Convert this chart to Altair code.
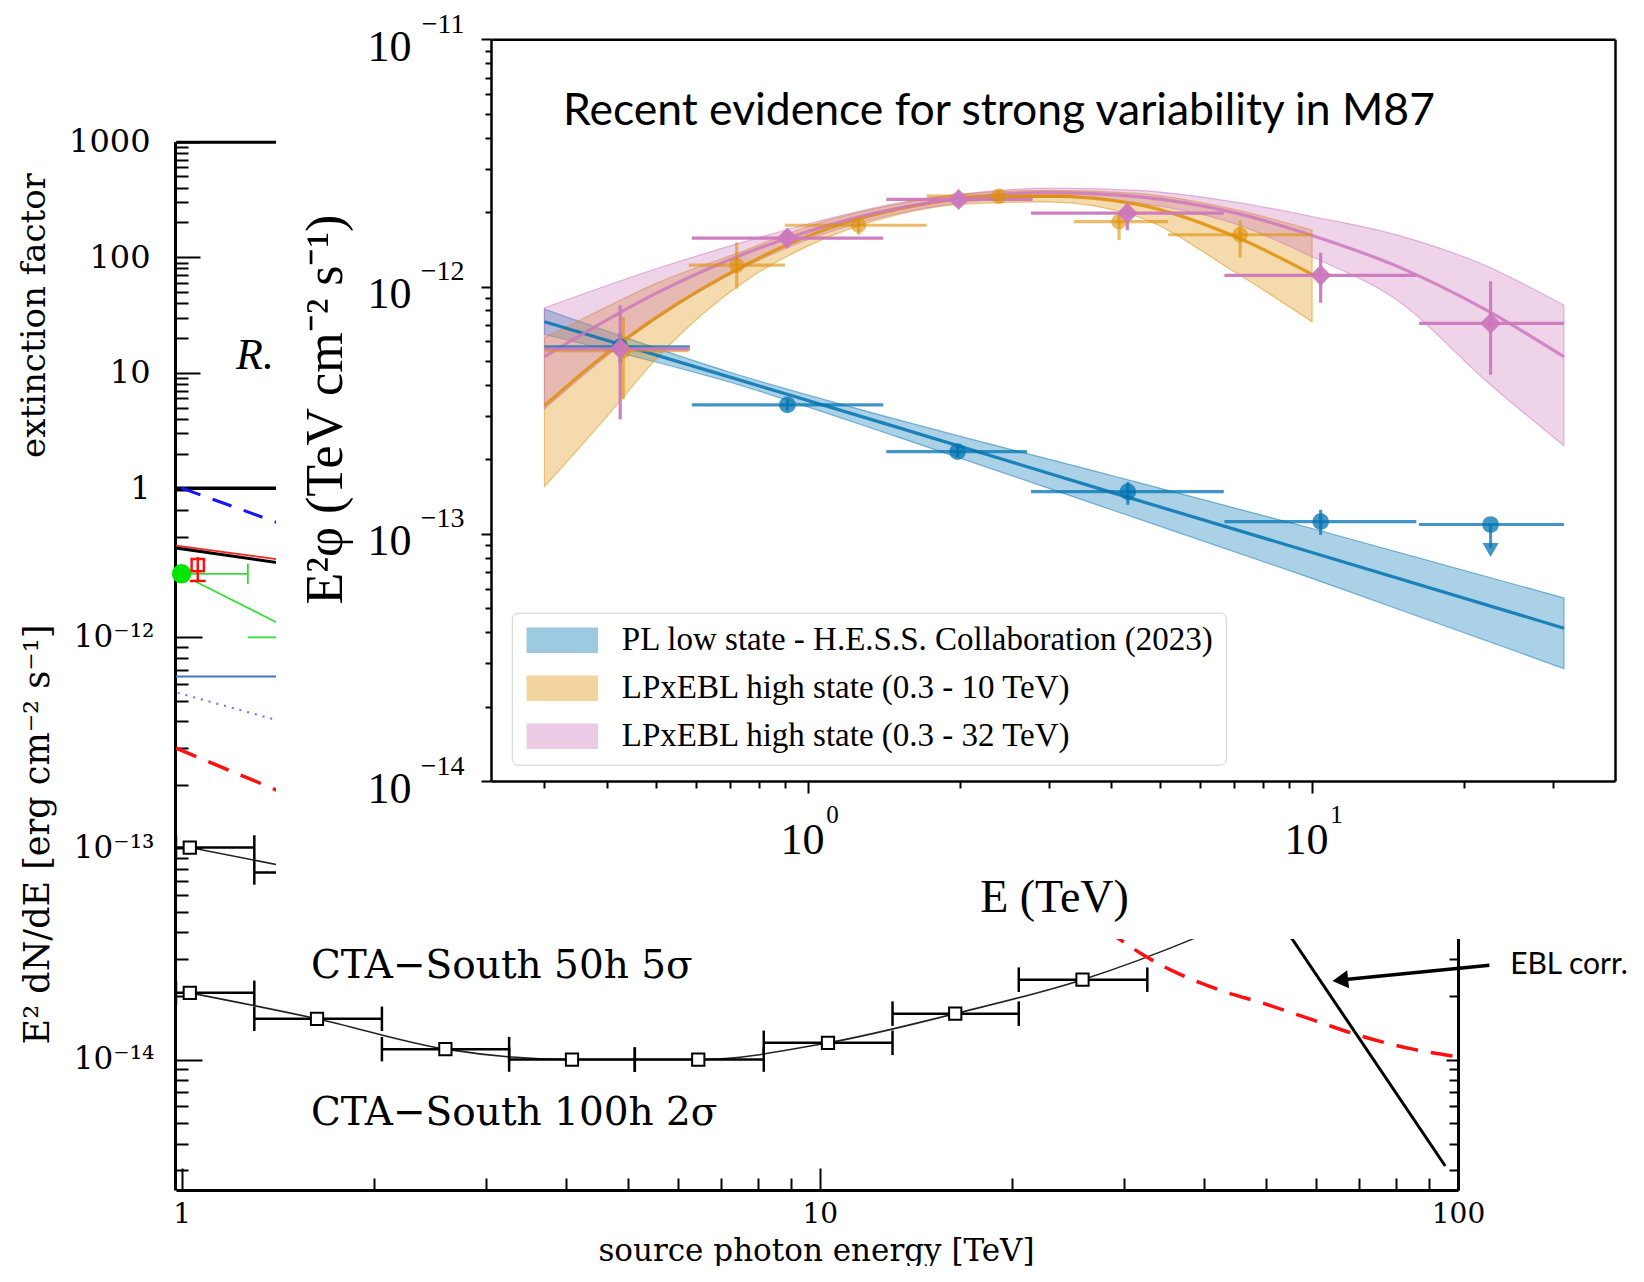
import altair as alt
import pandas as pd

W, H = 1628, 1258

# ======================= background figure (CTA-South sensitivity) =======================
cta100_E = [1.03, 1.63, 2.59, 4.09, 6.45, 10.3, 16.3, 25.8]
cta100_F = [2.07e-14, 1.56e-14, 1.12e-14, 1.00e-14, 1.00e-14, 1.20e-14, 1.65e-14, 2.39e-14]
cta100_Elo = [0.98, 1.30, 2.06, 3.26, 5.13, 8.17, 13.0, 20.5]
cta100_Ehi = [1.30, 2.06, 3.26, 5.13, 8.17, 13.0, 20.5, 32.6]
cta100_tail_E = [38.7, 50.0]
cta100_tail_F = [3.76e-14, 5.3e-14]

cta50_E = [1.03, 1.63]
cta50_F = [1.01e-13, 7.7e-14]
cta50_Elo = [0.98, 1.30]
cta50_Ehi = [1.30, 2.06]

ebl_dash_E = [28.0, 29.5, 32.0, 36.0, 42.0, 50.0, 60.0, 70.0, 85.0, 100.0]
ebl_dash_F = [4.1e-14, 3.71e-14, 3.15e-14, 2.6e-14, 2.15e-14, 1.83e-14, 1.52e-14, 1.3e-14, 1.12e-14, 1.03e-14]
ebl_corr_E = [50.0, 95.5]
ebl_corr_F = [5.7e-14, 3.13e-15]

blue_dash_E, blue_dash_F = [1.0, 1.6], [5.1e-12, 3.05e-12]
red_thin_E, red_thin_F = [0.98, 1.6], [2.72e-12, 2.23e-12]
black_thick_E, black_thick_F = [0.98, 1.6], [2.65e-12, 2.14e-12]
green_line_E, green_line_F = [1.04, 1.6], [1.87e-12, 0.97e-12]
blue_solid_E, blue_solid_F = [0.98, 2.0], [6.52e-13, 6.52e-13]
blue_dot_E, blue_dot_F = [0.986, 1.6], [5.46e-13, 3.65e-13]
red_dash_E, red_dash_F = [0.98, 1.6], [2.99e-13, 1.61e-13]

red_pt_E, red_pt_F, red_pt_Flo, red_pt_Fhi = [1.06], [2.2e-12], [1.85e-12], [2.4e-12]
green_pt_E, green_pt_F = [1.0], [2.0e-12]
green_bar_Elo = [1.0, 1.27]
green_bar_Ehi = [1.27, 2.0]
green_bar_F = [2.0e-12, 1.0e-12]

ext_E, ext_V = [0.98, 2.0], [1.0, 1.0]

bg_x_label_vals, bg_x_labels = [1, 10, 100], ["1", "10", "100"]
bg_y_label_vals, bg_y_labels = [1e-14, 1e-13, 1e-12], ["10⁻¹⁴", "10⁻¹³", "10⁻¹²"]
ext_label_vals, ext_labels = [1, 10, 100, 1000], ["1", "10", "100", "1000"]

# ======================= inset (M87 SED) =======================
S_PL = "PL low state - H.E.S.S. Collaboration (2023)"
S_LP10 = "LPxEBL high state (0.3 - 10 TeV)"
S_LP32 = "LPxEBL high state (0.3 - 32 TeV)"
series_names = [S_PL, S_LP10, S_LP32]
series_colors = ["#0173b2", "#de8f05", "#cc78bc"]

pl_E = [0.3, 0.7, 1.5, 4.0, 10.0, 31.6]
pl_mid = [7.2e-13, 4.3e-13, 2.7e-13, 1.47e-13, 8.4e-14, 4.15e-14]
pl_lo = [6.4e-13, 4.1e-13, 2.47e-13, 1.25e-13, 6.6e-14, 2.85e-14]
pl_hi = [8.1e-13, 4.5e-13, 2.9e-13, 1.72e-13, 1.05e-13, 5.5e-14]

lp10_E = [0.3, 0.4, 0.5, 0.75, 1.0, 1.5, 2.0, 3.0, 4.5, 7.0, 10.0]
lp10_mid = [3.3e-13, 5.4e-13, 7.5e-13, 1.22e-12, 1.6e-12, 2.05e-12, 2.25e-12, 2.32e-12, 2.15e-12, 1.6e-12, 1.12e-12]
lp10_lo = [1.55e-13, 3.0e-13, 5.1e-13, 1.05e-12, 1.46e-12, 1.95e-12, 2.15e-12, 2.2e-12, 1.92e-12, 1.15e-12, 7.2e-13]
lp10_hi = [6.2e-13, 8.3e-13, 1.03e-12, 1.4e-12, 1.75e-12, 2.15e-12, 2.36e-12, 2.45e-12, 2.38e-12, 2.05e-12, 1.69e-12]

lp32_E = [0.3, 0.5, 0.75, 1.0, 1.5, 2.0, 3.0, 4.5, 7.0, 10.0, 15.0, 22.0, 31.6]
lp32_mid = [5.2e-13, 9.4e-13, 1.36e-12, 1.67e-12, 2.07e-12, 2.27e-12, 2.4e-12, 2.31e-12, 1.99e-12, 1.61e-12, 1.19e-12, 8.1e-13, 5.2e-13]
lp32_lo = [3.2e-13, 7.4e-13, 1.2e-12, 1.55e-12, 1.97e-12, 2.18e-12, 2.3e-12, 2.18e-12, 1.8e-12, 1.32e-12, 8.6e-13, 4.2e-13, 2.27e-13]
lp32_hi = [8.2e-13, 1.18e-12, 1.52e-12, 1.79e-12, 2.17e-12, 2.36e-12, 2.5e-12, 2.45e-12, 2.2e-12, 1.92e-12, 1.6e-12, 1.22e-12, 8.4e-13]

pl_pt_E = [0.424, 0.91, 1.98, 4.31, 10.4]
pl_pt_F = [5.7e-13, 3.32e-13, 2.15e-13, 1.48e-13, 1.12e-13]
pl_pt_Elo = [0.30, 0.588, 1.43, 2.77, 6.7]
pl_pt_Ehi = [0.583, 1.41, 2.72, 6.68, 16.1]
pl_pt_Flo = [4.9e-13, 3.15e-13, 2.05e-13, 1.31e-13, 9.9e-14]
pl_pt_Fhi = [6.5e-13, 3.5e-13, 2.25e-13, 1.62e-13, 1.25e-13]
pl_ul_E, pl_ul_F, pl_ul_Elo, pl_ul_Ehi, pl_ul_Fend, pl_ul_head = [22.6], [1.09e-13], [16.3], [31.6], [8.8e-14], [8.6e-14]

lp10_pt_E = [0.43, 0.722, 1.26, 2.39, 4.14, 7.2]
lp10_pt_F = [5.5e-13, 1.22e-12, 1.77e-12, 2.32e-12, 1.83e-12, 1.62e-12]
lp10_pt_Elo = [0.30, 0.58, 0.90, 1.72, 3.37, 5.18]
lp10_pt_Ehi = [0.58, 0.90, 1.72, 3.37, 5.18, 10.0]
lp10_pt_Flo = [3.5e-13, 9.8e-13, 1.62e-12, 2.2e-12, 1.54e-12, 1.31e-12]
lp10_pt_Fhi = [7.5e-13, 1.51e-12, 1.92e-12, 2.45e-12, 1.98e-12, 1.85e-12]

lp32_pt_E = [0.424, 0.91, 1.99, 4.30, 10.4, 22.6]
lp32_pt_F = [5.6e-13, 1.57e-12, 2.25e-12, 1.98e-12, 1.11e-12, 7.1e-13]
lp32_pt_Elo = [0.30, 0.588, 1.43, 2.77, 6.7, 16.3]
lp32_pt_Ehi = [0.583, 1.41, 2.79, 6.68, 16.1, 31.6]
lp32_pt_Flo = [2.9e-13, 1.43e-12, 2.1e-12, 1.69e-12, 8.6e-13, 4.4e-13]
lp32_pt_Fhi = [8.4e-13, 1.69e-12, 2.4e-12, 2.17e-12, 1.37e-12, 1.05e-12]

ins_x_label_vals, ins_x_sup = [1, 10], ["0", "1"]
ins_y_label_vals, ins_y_sup = [1e-14, 1e-13, 1e-12, 1e-11], ["−14", "−13", "−12", "−11"]

# ======================= helpers =======================
FONT_BG = "DejaVu Serif"
FONT_IN = "Liberation Serif"
FONT_SANS = "Lato"
LOG_MAJOR = "abs(log(datum.value)/LN10 - round(log(datum.value)/LN10)) < 0.001"


def tick_size(major, minor):
    return {"condition": {"test": LOG_MAJOR, "value": major}, "value": minor}


def label_map(vals, labels):
    e = "''"
    for v, l in zip(reversed(vals), reversed(labels)):
        e = f"(abs(log(datum.value) - log({v!r})) < 0.01 ? '{l}' : {e})"
    return e


def axis(**kw):
    base = dict(grid=False, title=None, labelColor="black", tickColor="black",
                domainColor="black", titleColor="black", labelOverlap=False,
                labelFlush=False, titleFontWeight="normal")
    base.update(kw)
    return alt.Axis(**base)


def decade_ticks(lo_exp, hi_exp):
    out = []
    for e in range(lo_exp, hi_exp):
        for k in range(1, 10):
            out.append(k * 10.0 ** e)
    return out


bg_x_tick_vals = decade_ticks(0, 2) + [100.0]
bg_y_tick_vals = [k * 1e-15 for k in range(3, 10)] + decade_ticks(-14, -12) + [k * 1e-12 for k in range(1, 6)]
ext_tick_vals = decade_ticks(0, 3) + [1000.0]
ins_x_tick_vals = [k * 0.1 for k in range(3, 10)] + decade_ticks(0, 1) + [10.0, 20.0, 30.0]
ins_y_tick_vals = decade_ticks(-14, -11) + [1e-11]

bgx = alt.Scale(type="log", domain=[0.98, 100], range=[168, 1450], nice=False)
bgy = alt.Scale(type="log", domain=[2.41e-15, 5.1e-12], range=[1182, 480], nice=False)
exty = alt.Scale(type="log", domain=[1, 1000], range=[480.3, 133.7], nice=False)
insx = alt.Scale(type="log", domain=[0.235, 39.9], range=[483, 1607], nice=False)
insy = alt.Scale(type="log", domain=[1e-14, 1e-11], range=[773, 31.3], nice=False)

# ---------------- background axes ----------------
ax_bg_xlabels = axis(orient="bottom", offset=1182 - H, values=bg_x_label_vals,
                     labelExpr=label_map(bg_x_label_vals, bg_x_labels), ticks=False, tickSize=0,
                     domain=False, labelFont=FONT_BG, labelFontSize=28, labelPadding=10,
                     title="source photon energy [TeV]", titleFont=FONT_BG, titleFontSize=31,
                     titleX=808, titleY=70, titleAlign="center", titleBaseline="alphabetic", zindex=0)
ax_bg_xticks = axis(orient="top", offset=-1182, values=bg_x_tick_vals, labels=False,
                    tickSize=tick_size(22, 12), tickWidth=2, domain=True, domainWidth=3, zindex=0)
ax_bg_ylabels = axis(orient="left", offset=-167, values=bg_y_label_vals,
                     labelExpr=label_map(bg_y_label_vals, bg_y_labels), ticks=False, tickSize=0,
                     domain=True, domainWidth=3, labelFont=FONT_BG, labelFontSize=31, labelPadding=21,
                     title="E² dN/dE  [erg cm⁻² s⁻¹]", titleFont=FONT_BG, titleFontSize=35,
                     titleAngle=270, titleX=-138, titleY=826, titleAlign="center",
                     titleBaseline="middle", zindex=0)
ax_bg_yticks = axis(orient="right", offset=167 - W, values=bg_y_tick_vals, labels=False,
                    tickSize=tick_size(27, 13), tickWidth=2, domain=False, zindex=0)
ax_bg_yright = axis(orient="left", offset=-1450, values=bg_y_tick_vals, labels=False,
                    tickSize=tick_size(12, 9), tickWidth=2, domain=True, domainWidth=3, zindex=0)
ax_ext_labels = axis(orient="left", offset=-167, values=ext_label_vals,
                     labelExpr=label_map(ext_label_vals, ext_labels), ticks=False, tickSize=0,
                     domain=True, domainWidth=3, labelFont=FONT_BG, labelFontSize=32, labelPadding=25,
                     title="extinction factor", titleFont=FONT_BG, titleFontSize=34, titleAngle=270,
                     titleX=-141, titleY=307, titleAlign="center", titleBaseline="middle", zindex=0)
ax_ext_ticks = axis(orient="right", offset=167 - W, values=ext_tick_vals, labels=False,
                    tickSize=tick_size(25, 13), tickWidth=2, domain=False, zindex=0)
ax_bg_top = axis(orient="top", offset=-133.7, labels=False, ticks=False, domain=True,
                 domainWidth=3, zindex=0)


def bgX(field="E", ax=None):
    return alt.X(f"{field}:Q", scale=bgx, axis=ax)


def bgY(field="F", ax=None):
    return alt.Y(f"{field}:Q", scale=bgy, axis=ax)


def bgline(E, F, color, width, dash=None, interp="linear"):
    kw = dict(color=color, strokeWidth=width, interpolate=interp)
    if dash:
        kw["strokeDash"] = dash
    return alt.Chart(pd.DataFrame({"E": E, "F": F})).mark_line(**kw).encode(x=bgX(), y=bgY())


df100_curve = pd.DataFrame({"E": cta100_E + cta100_tail_E, "F": cta100_F + cta100_tail_F})
df_pts = pd.DataFrame({"E": cta100_E + cta50_E, "F": cta100_F + cta50_F,
                       "Elo": cta100_Elo + cta50_Elo, "Ehi": cta100_Ehi + cta50_Ehi})
df_caps = pd.DataFrame({"E": cta100_Elo + cta100_Ehi + cta50_Elo + cta50_Ehi,
                        "F": cta100_F + cta100_F + cta50_F + cta50_F})

l_cta100 = alt.Chart(df100_curve).mark_line(color="#222222", strokeWidth=1.6, interpolate="monotone").encode(
    x=bgX(ax=ax_bg_xlabels), y=bgY(ax=ax_bg_ylabels))
l_cta50 = bgline(cta50_E, cta50_F, "#222222", 1.6)
l_bars = alt.Chart(df_pts).mark_rule(color="black", strokeWidth=2.5).encode(
    x=bgX("Elo", ax_bg_xticks), x2="Ehi:Q", y=bgY(ax=ax_bg_yticks))
l_caps = alt.Chart(df_caps).mark_point(shape="M0,-1L0,1", size=600, strokeWidth=2.5, color="black",
                                        opacity=1).encode(x=bgX(), y=bgY(ax=ax_bg_yright))
l_sq = alt.Chart(df_pts).mark_square(size=150, fill="white", stroke="black", strokeWidth=2,
                                     opacity=1).encode(x=bgX(), y=bgY())

l_blue_dash = bgline(blue_dash_E, blue_dash_F, "#1515ff", 3, [20, 13])
l_red_thin = bgline(red_thin_E, red_thin_F, "#ff2020", 1.8)
l_black_thick = bgline(black_thick_E, black_thick_F, "black", 3)
l_green_line = bgline(green_line_E, green_line_F, "#33dd33", 1.6)
l_blue_solid = bgline(blue_solid_E, blue_solid_F, "#4472c4", 2)
l_blue_dot = bgline(blue_dot_E, blue_dot_F, "#6a6aff", 2, [2, 6])
l_red_dash = bgline(red_dash_E, red_dash_F, "#ff1010", 3.5, [22, 13])
l_ebl_dash = bgline(ebl_dash_E, ebl_dash_F, "#ff1010", 3.5, [22, 13], "monotone")
l_ebl_corr = bgline(ebl_corr_E, ebl_corr_F, "black", 3)

df_green_bar = pd.DataFrame({"Elo": green_bar_Elo, "Ehi": green_bar_Ehi, "F": green_bar_F})
l_green_bar = alt.Chart(df_green_bar).mark_rule(color="#33dd33", strokeWidth=1.8).encode(
    x=bgX("Elo"), x2="Ehi:Q", y=bgY())
l_green_cap = alt.Chart(df_green_bar).mark_point(shape="M0,-1L0,1", size=420, strokeWidth=1.8,
                                                  color="#33dd33", opacity=1).encode(x=bgX("Ehi"), y=bgY())
l_green_pt = alt.Chart(pd.DataFrame({"E": green_pt_E, "F": green_pt_F})).mark_circle(
    size=380, color="#00e600", opacity=1).encode(x=bgX(), y=bgY())
df_red = pd.DataFrame({"E": red_pt_E, "F": red_pt_F, "Flo": red_pt_Flo, "Fhi": red_pt_Fhi})
l_red_err = alt.Chart(df_red).mark_rule(color="#ff1010", strokeWidth=2.5).encode(
    x=bgX(), y=bgY("Flo"), y2="Fhi:Q")
l_red_sq = alt.Chart(df_red).mark_square(size=150, filled=False, color="#ff1010", strokeWidth=2.5,
                                         opacity=1).encode(x=bgX(), y=bgY())
l_red_cap = alt.Chart(df_red).mark_point(shape="M-1,0L1,0", size=256, strokeWidth=2.5, color="#ff1010",
                                         opacity=1).encode(x=bgX(), y=bgY("Flo"))

cta_text_E = [1.595, 1.595]
cta_text_F = [2.77e-14, 5.58e-15]
cta_text = ["CTA−South 50h 5σ", "CTA−South 100h 2σ"]
l_cta_txt = alt.Chart(pd.DataFrame({"E": cta_text_E, "F": cta_text_F, "t": cta_text})).mark_text(
    align="left", baseline="middle", font=FONT_BG, fontSize=39, color="black").encode(
    x=bgX(), y=bgY(), text="t:N")

ebl_txt_E, ebl_txt_F = [120.7], [2.8e-14]
arrow_E, arrow_F = [112.0, 65.4], [2.8e-14, 2.38e-14]
l_ebl_txt = alt.Chart(pd.DataFrame({"E": ebl_txt_E, "F": ebl_txt_F, "t": ["EBL corr."]})).mark_text(
    align="left", baseline="middle", font=FONT_SANS, fontSize=30, color="black").encode(
    x=bgX(), y=bgY(), text="t:N")
l_arrow = bgline(arrow_E, arrow_F, "black", 3.5)
l_arrow_head = alt.Chart(pd.DataFrame({"E": arrow_E[1:], "F": arrow_F[1:]})).mark_point(
    shape="triangle-left", size=330, filled=True, color="black", opacity=1, angle=354).encode(
    x=bgX(), y=bgY())

flux_group = alt.layer(
    l_cta100, l_cta50, l_bars, l_caps, l_sq,
    l_blue_dash, l_red_thin, l_black_thick, l_green_line, l_blue_solid, l_blue_dot, l_red_dash,
    l_ebl_dash, l_ebl_corr, l_green_bar, l_green_cap, l_green_pt, l_red_err, l_red_sq, l_red_cap,
    l_cta_txt, l_ebl_txt, l_arrow, l_arrow_head,
).resolve_axis(x="independent", y="independent")

l_ext = alt.Chart(pd.DataFrame({"E": ext_E, "V": ext_V})).mark_line(color="black", strokeWidth=3.5).encode(
    x=bgX(ax=ax_bg_top), y=alt.Y("V:Q", scale=exty, axis=ax_ext_labels))
r_E, r_V = [1.217], [13.97]
l_r = alt.Chart(pd.DataFrame({"E": r_E, "V": r_V, "t": ["R."]})).mark_text(
    align="left", baseline="middle", font=FONT_IN, fontStyle="italic", fontSize=44, color="black").encode(
    x=bgX(), y=alt.Y("V:Q", scale=exty, axis=ax_ext_ticks), text="t:N")
ext_group = alt.layer(l_ext, l_r).resolve_axis(x="independent", y="independent")

bg = alt.layer(ext_group, flux_group).resolve_scale(y="independent").resolve_axis(
    x="independent", y="independent")

# ---------------- white panel of the inset ----------------
white = alt.Chart(pd.DataFrame({"a": [0]})).mark_rect(color="white").encode(
    x=alt.value(268), x2=alt.value(W), y=alt.value(0), y2=alt.value(931))

# ---------------- inset ----------------
def band_df(name, E, lo, mid, hi):
    return pd.DataFrame({"series": name, "E": E, "lo": lo, "mid": mid, "hi": hi})


df_band = pd.concat([band_df(S_PL, pl_E, pl_lo, pl_mid, pl_hi),
                     band_df(S_LP10, lp10_E, lp10_lo, lp10_mid, lp10_hi),
                     band_df(S_LP32, lp32_E, lp32_lo, lp32_mid, lp32_hi)], ignore_index=True)


def pt_df(name, E, F, Elo, Ehi, Flo, Fhi):
    return pd.DataFrame({"grp": name, "E": E, "F": F, "Elo": Elo, "Ehi": Ehi, "Flo": Flo, "Fhi": Fhi})


df_ipts = pd.concat([pt_df(S_PL, pl_pt_E, pl_pt_F, pl_pt_Elo, pl_pt_Ehi, pl_pt_Flo, pl_pt_Fhi),
                     pt_df(S_LP10, lp10_pt_E, lp10_pt_F, lp10_pt_Elo, lp10_pt_Ehi, lp10_pt_Flo, lp10_pt_Fhi),
                     pt_df(S_LP32, lp32_pt_E, lp32_pt_F, lp32_pt_Elo, lp32_pt_Ehi, lp32_pt_Flo, lp32_pt_Fhi)],
                    ignore_index=True)
df_ul = pd.DataFrame({"grp": S_PL, "E": pl_ul_E, "F": pl_ul_F, "Elo": pl_ul_Elo, "Ehi": pl_ul_Ehi,
                      "Fend": pl_ul_Fend, "Fhead": pl_ul_head})
df_xbars = pd.concat([df_ipts[["grp", "F", "Elo", "Ehi"]], df_ul[["grp", "F", "Elo", "Ehi"]]],
                     ignore_index=True)

# legend scale (explicit domain, in legend order)
col_scale = alt.Scale(domain=series_names, range=series_colors)
# scales for the non-legend channels: data-derived (sorted) domain -> not merged with the legend
sorted_names = sorted(series_names)
sorted_colors = [series_colors[series_names.index(n)] for n in sorted_names]
mark_col = alt.Scale(range=sorted_colors)
mark_opa = alt.Scale(type="ordinal",
                     range=[{S_PL: 0.75, S_LP10: 0.6, S_LP32: 0.95}[n] for n in sorted_names])
mark_shape = alt.Scale(range=[{S_PL: "circle", S_LP10: "circle", S_LP32: "diamond"}[n] for n in sorted_names])
mark_size = alt.Scale(type="ordinal",
                      range=[{S_PL: 280, S_LP10: 240, S_LP32: 440}[n] for n in sorted_names])

ax_in_xticks = axis(orient="bottom", offset=773 - H, values=ins_x_tick_vals, labels=False,
                    tickSize=tick_size(12, 7), tickWidth=2, domain=True, domainWidth=2.5, zindex=1)
ax_in_yticks = axis(orient="left", offset=-483, values=ins_y_tick_vals, labels=False,
                    tickSize=tick_size(10, 6), tickWidth=2, domain=True, domainWidth=2.5, zindex=1)
ax_in_xlab = axis(orient="bottom", offset=773 - H, values=ins_x_label_vals, labelExpr="'10'",
                  ticks=False, tickSize=0, domain=False, labelFont=FONT_IN, labelFontSize=44,
                  labelPadding=37, labelOffset=-6, title="E (TeV)", titleFont=FONT_IN, titleFontSize=46,
                  titleX=1046, titleY=116, titleAlign="center", titleBaseline="middle", zindex=1)
ax_in_ylab = axis(orient="left", offset=-483, values=ins_y_label_vals, labelExpr="'10'",
                  ticks=False, tickSize=0, domain=False, labelFont=FONT_IN, labelFontSize=44,
                  labelPadding=80, labelOffset=8, title="E²φ (TeV cm⁻² s⁻¹)", titleFont=FONT_IN,
                  titleFontSize=52, titleAngle=270, titleX=-166, titleY=401, titleAlign="center",
                  titleBaseline="middle", zindex=1)
ax_in_xsup = axis(orient="bottom", offset=773 - H, values=ins_x_label_vals,
                  labelExpr=label_map(ins_x_label_vals, ins_x_sup), ticks=False, tickSize=0,
                  domain=False, labelFont=FONT_IN, labelFontSize=25, labelPadding=21, labelOffset=24,
                  zindex=1)
ax_in_ysup = axis(orient="left", offset=-483, values=ins_y_label_vals,
                  labelExpr=label_map(ins_y_label_vals, ins_y_sup), ticks=False, tickSize=0,
                  domain=False, labelFont=FONT_IN, labelFontSize=28, labelPadding=27, labelOffset=-15,
                  zindex=1)
ax_in_top = axis(orient="top", offset=-31.3, labels=False, ticks=False, domain=True, domainWidth=2.5,
                 zindex=1)
ax_in_right = axis(orient="right", offset=1607 - W, labels=False, ticks=False, domain=True,
                   domainWidth=2.5, zindex=1)


def inX(field="E", ax=None):
    return alt.X(f"{field}:Q", scale=insx, axis=ax)


def inY(field="F", ax=None):
    return alt.Y(f"{field}:Q", scale=insy, axis=ax)


# swatch: 70 x 24 px rectangle (sqrt(size)=24 -> path units of 12 px)
legend = alt.Legend(title=None, orient="none", legendX=503.8, legendY=604.7,
                    symbolType="M-2.92,-1H2.92V1H-2.92Z", symbolSize=576, symbolOffset=23,
                    symbolOpacity=0.38, symbolStrokeWidth=1.5, labelFont=FONT_IN, labelFontSize=33,
                    labelColor="black", labelLimit=0, labelOffset=43, padding=11, rowPadding=14,
                    strokeColor="#d0d0d0", fillColor="white", cornerRadius=6)

i_band = alt.Chart(df_band).mark_area(fillOpacity=0.33, strokeOpacity=0.5, strokeWidth=1.2,
                                      interpolate="monotone").encode(
    x=inX(ax=ax_in_xticks), y=inY("lo", ax_in_yticks), y2="hi:Q",
    fill=alt.Fill("series:N", scale=col_scale, legend=legend),
    stroke=alt.Stroke("series:N", scale=col_scale, legend=None))
i_line = alt.Chart(df_band.rename(columns={"series": "grp"})).mark_line(
    strokeWidth=3.2, strokeOpacity=0.85, interpolate="monotone").encode(
    x=inX(ax=ax_in_xlab), y=inY("mid", ax_in_ylab),
    color=alt.Color("grp:N", scale=mark_col, legend=None), detail="grp:N")
i_xbar = alt.Chart(df_xbars).mark_rule(strokeWidth=3.2).encode(
    x=inX("Elo", ax_in_xsup), x2="Ehi:Q", y=inY(ax=ax_in_ysup),
    color=alt.Color("grp:N", scale=mark_col, legend=None),
    opacity=alt.Opacity("grp:N", scale=mark_opa, legend=None))
i_ybar = alt.Chart(df_ipts).mark_rule(strokeWidth=3.2).encode(
    x=inX(ax=ax_in_top), y=inY("Flo", ax_in_right), y2="Fhi:Q",
    color=alt.Color("grp:N", scale=mark_col, legend=None),
    opacity=alt.Opacity("grp:N", scale=mark_opa, legend=None))
i_pts = alt.Chart(pd.concat([df_ipts, df_ul[["grp", "E", "F"]]], ignore_index=True)).mark_point(
    filled=True).encode(
    x=inX(), y=inY(),
    color=alt.Color("grp:N", scale=mark_col, legend=None),
    opacity=alt.Opacity("grp:N", scale=mark_opa, legend=None),
    shape=alt.Shape("grp:N", scale=mark_shape, legend=None),
    size=alt.Size("grp:N", scale=mark_size, legend=None))
i_ul = alt.Chart(df_ul).mark_rule(strokeWidth=3, color=series_colors[0], opacity=0.75).encode(
    x=inX(), y=inY(), y2="Fend:Q")
i_ul_head = alt.Chart(df_ul).mark_point(shape="triangle-down", size=260, filled=True,
                                         color=series_colors[0], opacity=0.75).encode(
    x=inX(), y=inY("Fhead"))

title_E, title_F = [0.3265], [5.08e-12]
i_title = alt.Chart(pd.DataFrame({"E": title_E, "F": title_F,
                                  "t": ["Recent evidence for strong variability in M87"]})).mark_text(
    align="left", baseline="middle", font=FONT_SANS, fontSize=44.5, color="black").encode(
    x=inX(), y=inY(), text="t:N")

inset = alt.layer(i_band, i_line, i_xbar, i_ybar, i_pts, i_ul, i_ul_head, i_title).resolve_axis(
    x="independent", y="independent")

chart = alt.layer(bg, white, inset).resolve_scale(x="independent", y="independent").resolve_axis(
    x="independent", y="independent").properties(
    width=W, height=H, autosize=alt.AutoSizeParams(type="none"), padding=0, background="white"
).configure_view(stroke=None)

chart.save("out.html", embed_options={"renderer": "svg", "actions": False})
